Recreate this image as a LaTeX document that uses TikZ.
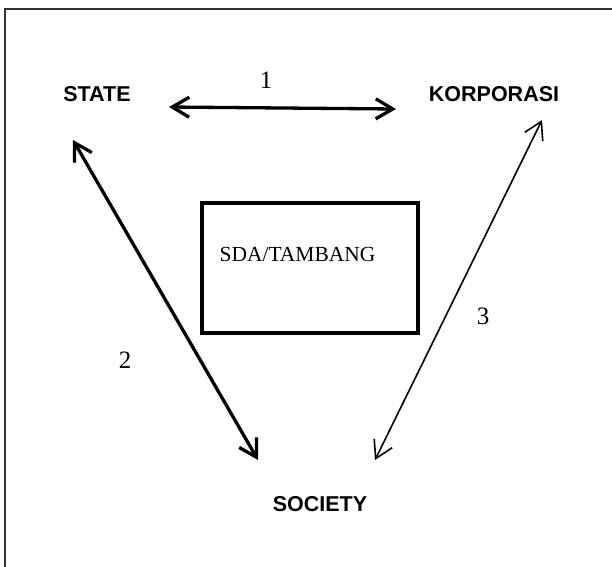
\documentclass[tikz,border=0pt]{standalone}
\usepackage{fontspec}
\setmainfont{Liberation Serif}
\newfontfamily\headfont{Liberation Sans}
\usetikzlibrary{arrows.meta}

\begin{document}
\begin{tikzpicture}[
  x=1pt,y=-1pt,
  actor/.style={font=\headfont\bfseries\fontsize{21.5}{26}\selectfont,inner sep=0pt},
  num/.style={font=\fontsize{25}{30}\selectfont,inner sep=0pt},
  txt/.style={font=\fontsize{21.5}{26}\selectfont,inner sep=0pt},
  box/.style={draw,line width=3.3pt,minimum width=216pt,minimum height=130pt,inner sep=0pt},
  frame/.style={draw=black!80,line width=1.3pt},
  arr/.style={{Straight Barb[length=17pt,width=20pt]}-{Straight Barb[length=17pt,width=20pt]},line width=3.3pt},
  thinarr/.style={arr,line width=1.6pt}
]
\useasboundingbox (0,0) rectangle (612,566);
\draw[frame] (5,570) |- (616,9);

\node[actor] (state) at (97,94) {STATE};
\node[actor] (korporasi) at (494,94) {KORPORASI};
\node[actor] (society) at (320,504) {SOCIETY};
\node[box] (tambang) at (310,268) {};
\node[txt,anchor=base west] (tambangtxt) at ([xshift=19pt,yshift=-60pt]tambang.north west) {SDA/TAMBANG};

\coordinate (st1) at (169,107);
\coordinate (ko1) at (396,109);
\coordinate (st2) at (73,140);
\coordinate (so2) at (258,460);
\coordinate (ko3) at (542,120);
\coordinate (so3) at (375,460);

\draw[arr] (st1) -- (ko1);
\draw[arr] (st2) -- (so2);
\draw[thinarr] (ko3) -- (so3);
\node[num] (n1) at (266,80) {1};
\node[num] (n2) at (125,360) {2};
\node[num] (n3) at (483,316) {3};
\end{tikzpicture}
\end{document}
